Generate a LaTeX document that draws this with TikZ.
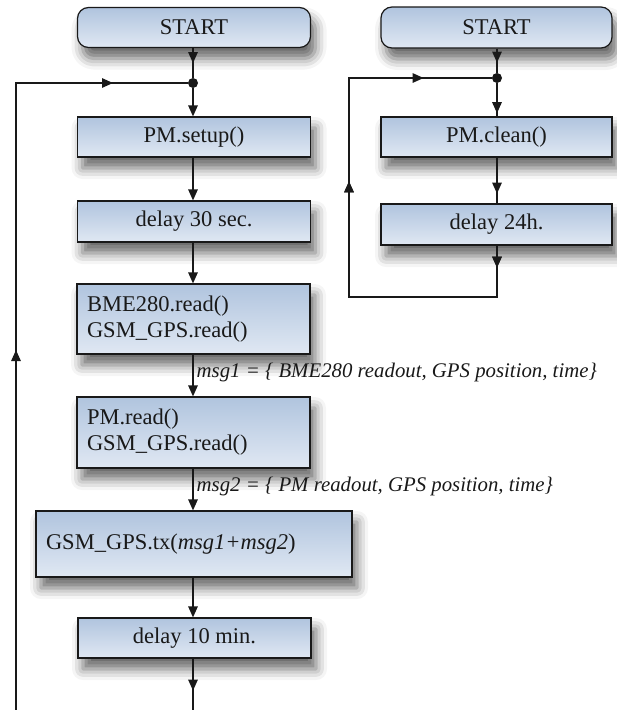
\documentclass[tikz,border=0pt]{standalone}
\usepackage{fontspec}
\setmainfont{Liberation Serif}
\usetikzlibrary{arrows.meta,decorations.markings,shadows.blur}
\definecolor{boxtop}{RGB}{176,196,222}
\definecolor{boxbot}{RGB}{224,232,243}
\definecolor{ink}{RGB}{25,25,25}
\tikzset{
  tip/.tip={Triangle[length=11pt,width=9.5pt]},
  box/.style={draw=ink, line width=1.2pt, top color=boxtop, bottom color=boxbot,
    blur shadow={shadow xshift=5pt, shadow yshift=-11pt, shadow blur radius=11pt, shadow opacity=60},
    minimum width=233pt, inner sep=0pt, text=ink,
    font=\fontsize{22.5}{26}\selectfont},
  startbox/.style={box, rounded corners=11pt},
  textbox/.style={box, align=left, inner xsep=10pt, text width=213pt},
  conn/.style={draw=ink, line width=1.3pt},
  arr/.style={conn, -{tip}},
  midarr/.style={conn, postaction={decorate},
    decoration={markings, mark=at position #1 with {\arrow{tip}}}},
  twomid/.style 2 args={conn, postaction={decorate},
    decoration={markings, mark=at position #1 with {\arrow{tip}}, mark=at position #2 with {\arrow{tip}}}},
  dotnode/.style={circle, fill=ink, inner sep=0pt, minimum size=10pt},
  msg/.style={anchor=west, inner sep=0pt, text=ink, font=\fontsize{20.8}{26}\selectfont\itshape}
}
\begin{document}
\begin{tikzpicture}[x=1pt,y=-1pt]
\useasboundingbox (0,0) rectangle (617,710);
% left column
\node[startbox, minimum height=40pt] (s1) at (194,27.5) {START};
\node[dotnode] (j1) at (193,83) {};
\node[box, minimum height=40pt] (setup) at (194,137) {PM.setup()};
\node[box, minimum height=41pt] (d30) at (194,221.5) {delay 30 sec.};
\node[textbox, minimum height=70pt] (bme) at (193.5,319) {BME280.read()\\GSM\_GPS.read()};
\node[textbox, minimum height=71pt] (pmr) at (193.5,432.5) {PM.read()\\GSM\_GPS.read()};
\node[box, align=left, minimum width=316pt, text width=296pt, inner xsep=10pt, minimum height=66pt] (tx) at (194,544) {GSM\_GPS.tx(\textit{msg1+msg2})};
\node[box, minimum height=40pt] (d10) at (194.5,638) {delay 10 min.};
\coordinate (bot) at (193,710);
\coordinate (lb) at (16,710);
\coordinate (lt) at (16,83);

\draw[midarr=15pt] (s1.south -| j1) -- (j1);
\draw[arr] (j1) -- (setup.north -| j1);
\draw[arr] (setup.south -| j1) -- (d30.north -| j1);
\draw[arr] (d30.south -| j1) -- (bme.north -| j1);
\draw[arr] (bme.south -| j1) -- (pmr.north -| j1)
  node[msg, pos=0.42, xshift=3pt] {msg1 = \{ BME280 readout, GPS position, time\}};
\draw[arr] (pmr.south -| j1) -- (tx.north -| j1)
  node[msg, pos=0.42, xshift=3pt] {msg2 = \{ PM readout, GPS position, time\}};
\draw[arr] (tx.south -| j1) -- (d10.north -| j1);
\draw[midarr=32pt] (d10.south -| j1) -- (bot);
\draw[twomid={360pt}{724pt}] (lb) -- (lt) -- (j1);

% right column
\node[startbox, minimum width=231pt, minimum height=41pt] (s2) at (496.5,27.5) {START};
\node[dotnode] (j2) at (497,78) {};
\node[box, minimum width=231pt, minimum height=40pt] (clean) at (496.5,137) {PM.clean()};
\node[box, minimum width=231pt, minimum height=41pt] (d24) at (496.5,224.5) {delay 24h.};
\coordinate (rb) at (497,297);
\coordinate (rl) at (349,297);
\coordinate (rt) at (349,78);

\draw[midarr=14pt] (s2.south -| j2) -- (j2);
\draw[midarr=30pt] (j2) -- (clean.north -| j2);
\draw[midarr=36pt] (clean.south -| j2) -- (d24.north -| j2);
\draw[twomid={22pt}{315pt}, postaction={decorate, decoration={markings, mark=at position 493pt with {\arrow{tip}}}}]
  (d24.south -| j2) -- (rb) -- (rl) -- (rt) -- (j2);
\end{tikzpicture}
\end{document}
